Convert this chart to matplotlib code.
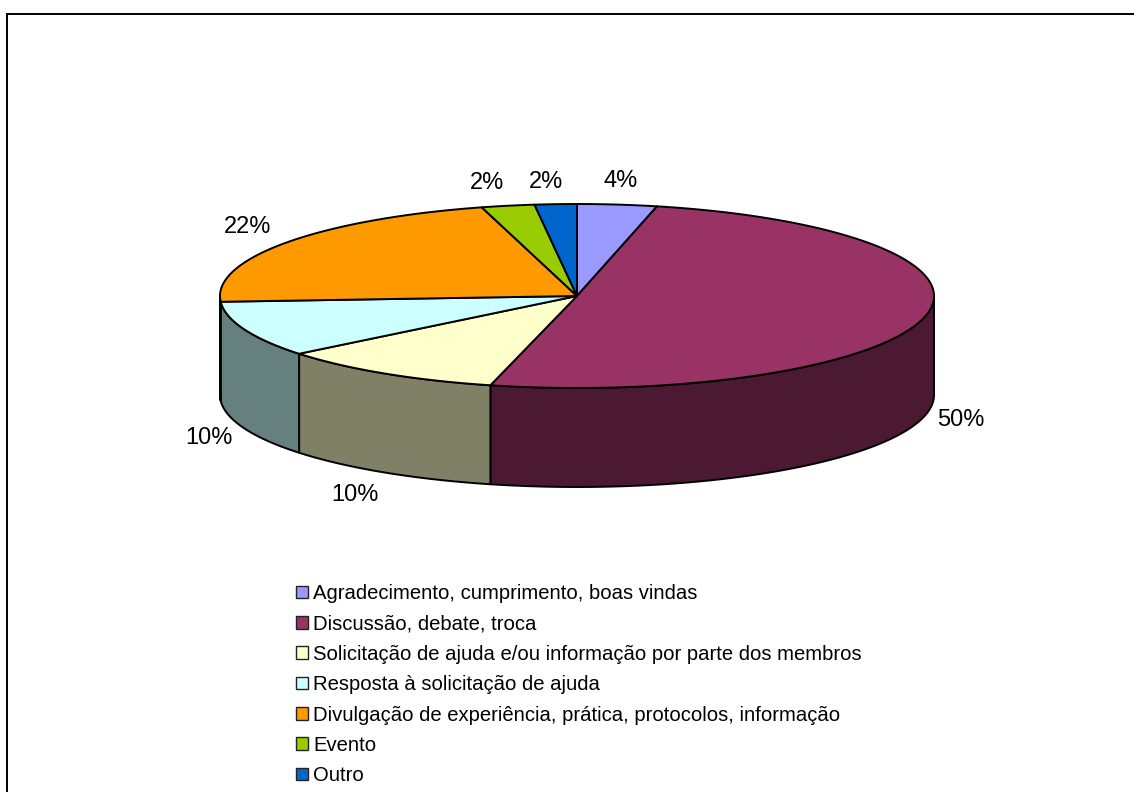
import numpy as np
import matplotlib
matplotlib.use("Agg")
import matplotlib.pyplot as plt
from matplotlib.patches import Polygon, Patch

categorias = ["Agradecimento, cumprimento, boas vindas",
              "Discussão, debate, troca",
              "Solicitação de ajuda e/ou informação por parte dos membros",
              "Resposta à solicitação de ajuda",
              "Divulgação de experiência, prática, protocolos, informação",
              "Evento",
              "Outro"]
valores = [3.6, 50.3, 10.3, 9.8, 21.7, 2.4, 1.9]
cores = ["#9999FF", "#993366", "#FFFFCC", "#CCFFFF", "#FF9900", "#99CC00", "#0066CC"]
cores_lado = ["#4C4C80", "#4C1933", "#808066", "#668080", "#804C00", "#4C6600", "#003366"]

# pixel positions of the percentage labels, same order as valores
pos_rotulos = [(621, 181), (961, 420), (355, 495), (209, 438), (248, 227), (487, 183), (546, 182)]

cx, cy = 577, 296
rx, ry = 357, 92
prof = 99

plt.rcParams['font.family'] = ['Liberation Sans', 'DejaVu Sans']

fig = plt.figure(figsize=(11.34, 7.92), dpi=100)
ax = fig.add_axes([0, 0, 1, 1])
ax.set_xlim(0, 1134)
ax.set_ylim(792, 0)
ax.axis('off')


def borda(a0, a1, dy=0):
    t = np.radians(np.linspace(a0, a1, 200))
    return np.column_stack([cx + rx * np.sin(t), cy - ry * np.cos(t) + dy])


angulos = np.concatenate([[0], np.cumsum(valores)]) / sum(valores) * 360

# sides first, only the front half of the rim shows
for i in range(len(valores)):
    a0, a1 = max(angulos[i], 90), min(angulos[i + 1], 270)
    if a1 <= a0:
        continue
    pts = np.vstack([borda(a0, a1), borda(a0, a1, prof)[::-1]])
    ax.add_patch(Polygon(pts, closed=True, fc=cores_lado[i], ec='black', lw=1.4, joinstyle='round'))

# top slices
for i in range(len(valores)):
    pts = np.vstack([[[cx, cy]], borda(angulos[i], angulos[i + 1])])
    ax.add_patch(Polygon(pts, closed=True, fc=cores[i], ec='black', lw=1.4, joinstyle='round'))

for v, (x, y) in zip(valores, pos_rotulos):
    ax.text(x, y, "%d%%" % round(v), ha='center', va='center', fontsize=17, color='black')

# chart frame, only top and left sides are in the picture
ax.plot([7, 7, 1134], [792, 14, 14], color='black', lw=1.4, solid_joinstyle='miter')

handles = [Patch(fc=c, ec='#222222', lw=1.0) for c in cores]
ax.legend(handles, categorias, loc='upper left', bbox_to_anchor=(288 / 1134, 1 - 576 / 792),
          frameon=False, fontsize=14.6, labelspacing=0.56, handlelength=0.59, handleheight=0.59,
          handletextpad=0.25, borderpad=0.4, borderaxespad=0)

fig.savefig("out.png", dpi=100)
